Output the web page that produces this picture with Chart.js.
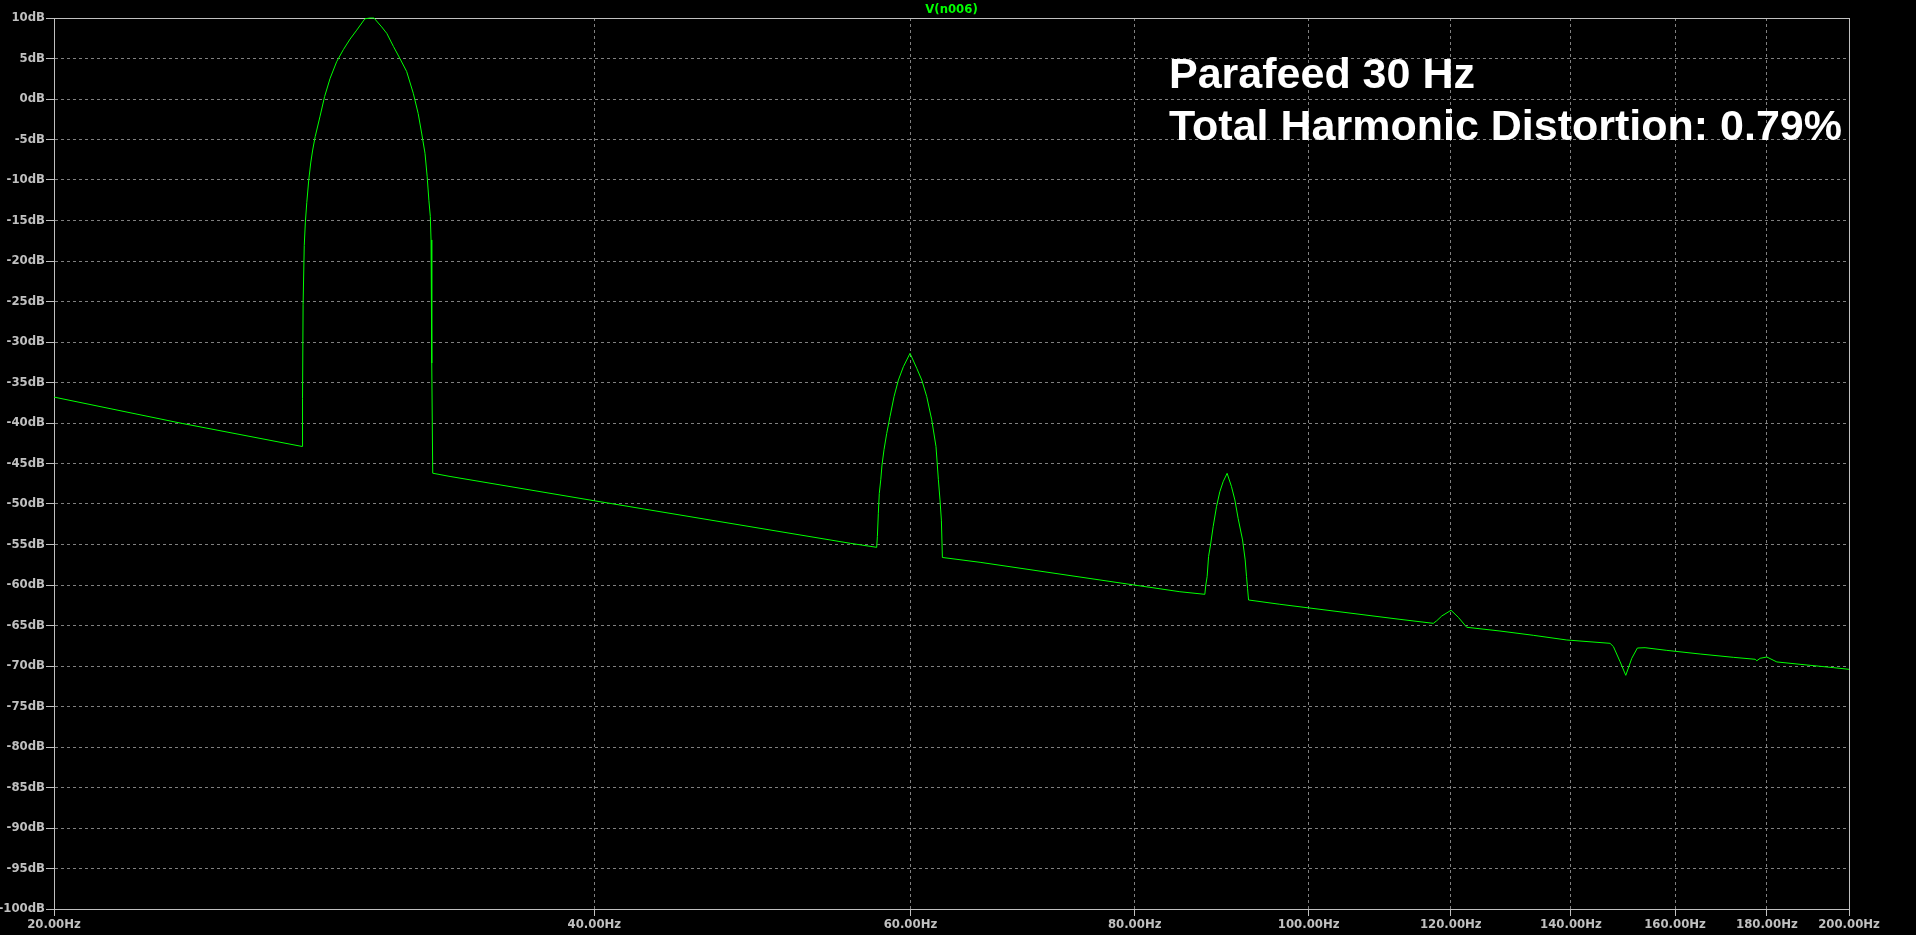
<!DOCTYPE html>
<html lang="en">
<head>
    <meta charset="UTF-8">
    <title>V(n006) FFT</title>
    <script src="https://cdn.jsdelivr.net/npm/chart.js"></script>
    <style>
        html, body {
            margin: 0;
            padding: 0;
            background: #000;
            overflow: hidden;
        }

        #chartContainer {
            width: 1916px;
            height: 935px;
        }
    </style>
</head>
<body>
    <div id="chartContainer">
        <canvas id="fftChart"></canvas>
    </div>

    <script>
        // Trace: frequency (Hz) and level (dB)
        const freqHz = [
            20.00, 23.51, 27.50,
            27.51, 27.53, 27.57, 27.61, 27.66, 27.73, 27.80, 27.87, 27.96, 28.13, 28.30, 28.50, 28.74, 28.99, 29.24, 29.49, 29.80,
            30.00, 30.15, 30.45, 30.65, 30.91, 31.17, 31.44, 31.71, 31.91, 32.05, 32.19, 32.28, 32.35, 32.41, 32.44, 32.47, 32.51,
            33.24, 40.00, 55.54, 57.46,
            57.51, 57.58, 57.65, 57.76, 57.85, 58.00, 58.20, 58.45, 58.75, 59.08, 59.46, 59.97,
            60.49, 60.88, 61.27, 61.66, 62.00, 62.19, 62.32, 62.43, 62.51,
            65.61, 84.77, 87.53,
            87.64, 87.79, 87.95, 88.17, 88.47, 88.85, 89.23, 89.61, 90.07,
            90.58, 90.97, 91.35, 91.87, 92.18, 92.34, 92.46, 92.58,
            96.37, 112.43, 117.34, 117.86, 118.62, 120.04, 121.17, 122.48,
            127.82, 133.40, 139.25, 147.20, 147.83, 149.11, 150.20, 151.36, 152.45, 153.96,
            158.31, 165.23, 172.44, 177.31, 177.70, 178.45, 179.99, 182.32, 187.82, 196.01, 200.00
        ];
        const levelDb = [
            -36.8, -40.0, -42.9,
            -37.0, -25.4, -18.1, -15.2, -12.8, -10.0, -7.9, -6.3, -4.65, -2.2, 0.3, 2.55, 4.6, 6.1, 7.4, 8.5, 9.9,
            10.0, 10.0, 8.9, 8.1, 6.5, 5.0, 3.4, 0.7, -1.8, -4.2, -6.7, -9.6, -12.5, -14.5, -17.4, -32.6, -46.2,
            -46.6, -49.6, -54.85, -55.35,
            -54.0, -51.15, -48.7, -47.0, -45.2, -43.3, -41.3, -39.2, -36.75, -34.7, -33.05, -31.4,
            -33.25, -34.7, -36.75, -39.6, -42.9, -47.0, -49.5, -52.0, -56.6,
            -57.2, -60.83, -61.15,
            -60.0, -58.97, -56.5, -55.06, -52.8, -50.33, -48.48, -47.25, -46.21,
            -47.86, -49.5, -51.77, -54.44, -56.9, -58.97, -60.4, -61.85,
            -62.38, -64.24, -64.73, -64.41, -63.83, -63.12, -63.99, -65.22,
            -65.68, -66.21, -66.79, -67.2, -67.6, -69.47, -71.15, -69.05, -67.78, -67.74,
            -68.07, -68.52, -68.93, -69.17, -69.35, -69.05, -68.89, -69.5, -69.79, -70.2, -70.41
        ];

        // Axis ticks
        const freqTicks = [20, 40, 60, 80, 100, 120, 140, 160, 180, 200];
        const dbMin = -100;
        const dbMax = 10;
        const dbStep = 5;

        const traceName = 'V(n006)';
        const noteLines = ['Parafeed 30 Hz', 'Total Harmonic Distortion: 0.79%'];

        const points = freqHz.map((f, i) => ({ x: f, y: levelDb[i] }));

        const axisFont = { family: '"DejaVu Sans Condensed", "DejaVu Sans", sans-serif', size: 13, weight: 'bold' };

        // box, title and note text, LTspice style
        const overlayPlugin = {
            id: 'overlay',
            beforeDraw(chart) {
                const ctx = chart.ctx;
                ctx.save();
                ctx.fillStyle = '#000';
                ctx.fillRect(0, 0, chart.width, chart.height);
                ctx.restore();
            },
            beforeDatasetsDraw(chart) {
                const { ctx, chartArea: a } = chart;
                ctx.save();
                ctx.strokeStyle = '#c0c0c0';
                ctx.lineWidth = 1;
                ctx.strokeRect(Math.round(a.left) + 0.5, Math.round(a.top) + 0.5,
                    Math.round(a.right - a.left), Math.round(a.bottom - a.top));
                ctx.restore();
            },
            afterDraw(chart) {
                const { ctx, chartArea: a } = chart;
                ctx.save();
                ctx.fillStyle = '#00ff00';
                ctx.font = 'bold 13px "DejaVu Sans Condensed", "DejaVu Sans", sans-serif';
                ctx.textAlign = 'center';
                ctx.textBaseline = 'alphabetic';
                ctx.fillText(traceName, (a.left + a.right) / 2, 13);

                ctx.fillStyle = '#ffffff';
                ctx.font = 'bold 43px "Liberation Sans", Arial, sans-serif';
                ctx.textAlign = 'left';
                ctx.fillText(noteLines[0], 1169, 88);
                ctx.fillText(noteLines[1], 1169, 139.5);
                ctx.restore();
            }
        };

        const ctx = document.getElementById('fftChart').getContext('2d');
        new Chart(ctx, {
            type: 'line',
            data: {
                datasets: [{
                    label: traceName,
                    data: points,
                    borderColor: '#00ff00',
                    borderWidth: 1,
                    pointRadius: 0,
                    tension: 0,
                    fill: false,
                    clip: 2,
                }],
            },
            options: {
                responsive: true,
                maintainAspectRatio: false,
                animation: false,
                layout: { padding: { left: 0, right: 67, top: 18, bottom: 0 } },
                plugins: {
                    legend: { display: false },
                    tooltip: { enabled: false },
                },
                scales: {
                    x: {
                        type: 'logarithmic',
                        min: 20,
                        max: 200,
                        afterBuildTicks: (scale) => {
                            scale.ticks = freqTicks.map(v => ({ value: v }));
                        },
                        afterFit: (scale) => { scale.height = 26; },
                        ticks: {
                            autoSkip: false,
                            maxRotation: 0,
                            color: '#c0c0c0',
                            font: axisFont,
                            padding: 1,
                            callback: (v) => Number(v).toFixed(2) + 'Hz',
                        },
                        grid: {
                            color: '#808080',
                            tickColor: '#c0c0c0',
                            tickLength: 7,
                            tickBorderDash: [],
                        },
                        border: { color: '#c0c0c0', dash: [3, 3] },
                    },
                    y: {
                        type: 'linear',
                        min: dbMin,
                        max: dbMax,
                        afterFit: (scale) => { scale.width = 54; },
                        ticks: {
                            stepSize: dbStep,
                            autoSkip: false,
                            color: '#c0c0c0',
                            font: axisFont,
                            padding: 1,
                            callback: (v) => v + 'dB',
                        },
                        grid: {
                            color: '#808080',
                            tickColor: '#c0c0c0',
                            tickLength: 8,
                            tickBorderDash: [],
                        },
                        border: { color: '#c0c0c0', dash: [3, 3] },
                    },
                },
            },
            plugins: [overlayPlugin],
        });
    </script>
</body>
</html>
